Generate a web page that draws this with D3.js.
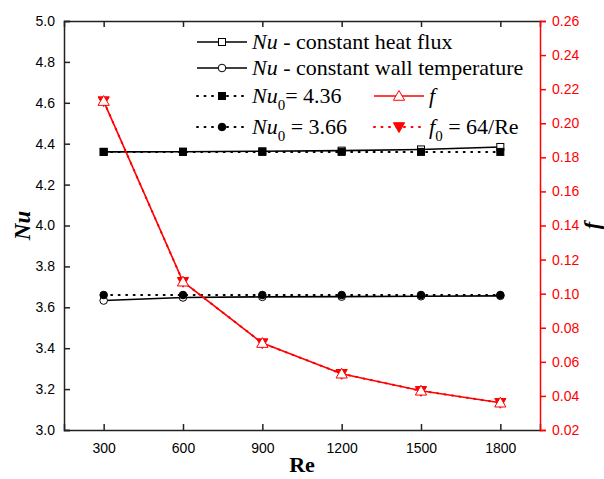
<!DOCTYPE html>
<html>
<head>
<meta charset="utf-8">
<script src="https://cdn.jsdelivr.net/npm/d3@7"></script>
<style>
  body { margin: 0; background: #fff; }
  svg { display: block; }
  .serif { font-family: "Liberation Serif", "Times New Roman", serif; }
</style>
</head>
<body>
<div id="main"></div>
<script>
"use strict";

// data
var reValues = [300, 600, 900, 1200, 1500, 1800];
var nuHeatFlux = [4.360, 4.361, 4.363, 4.366, 4.372, 4.384];
var nuWallTemp = [3.633, 3.648, 3.651, 3.652, 3.654, 3.656];
var nu0HeatFlux = [4.36, 4.36, 4.36, 4.36, 4.36, 4.36];
var nu0WallTemp = [3.66, 3.66, 3.66, 3.66, 3.66, 3.66];
var fValues = [0.213, 0.107, 0.071, 0.053, 0.043, 0.036];
var f0Values = [0.213, 0.107, 0.071, 0.053, 0.043, 0.036];
var reTicks = [300, 600, 900, 1200, 1500, 1800];
var nuTicks = [3.0, 3.2, 3.4, 3.6, 3.8, 4.0, 4.2, 4.4, 4.6, 4.8, 5.0];
var fTicks = [0.02, 0.04, 0.06, 0.08, 0.10, 0.12, 0.14, 0.16, 0.18, 0.20, 0.22, 0.24, 0.26];

var W = 604, H = 479;
var m = { left: 64, right: 540, top: 21, bottom: 430 };
var RED = "#ff0000";
var DOTS = "1,6.5";
var sans = "'Liberation Sans', Arial, sans-serif";

var svg = d3.select("#main").append("svg").attr("width", W).attr("height", H);

var x = d3.scaleLinear().domain([150, 1950]).range([m.left, m.right]);
var yL = d3.scaleLinear().domain([3.0, 5.0]).range([m.bottom, m.top]);
var yR = d3.scaleLinear().domain([0.02, 0.26]).range([m.bottom, m.top]);

// minor tick helpers
function minors(scale, step) {
  var d = scale.domain(), out = [];
  for (var v = d[0]; v <= d[1] + 1e-9; v += step) out.push(+v.toFixed(4));
  return out;
}

// bottom axis (ticks inward)
var gB = svg.append("g").attr("transform", "translate(0," + m.bottom + ")");
gB.call(d3.axisBottom(x).tickValues(minors(x, 150)).tickSize(-3).tickFormat(""));
gB.call(d3.axisBottom(x).tickValues(reTicks).tickSize(-6).tickPadding(13).tickFormat(d3.format("d")));

// top axis (ticks inward, no labels)
var gT = svg.append("g").attr("transform", "translate(0," + m.top + ")");
gT.call(d3.axisTop(x).tickValues(minors(x, 150)).tickSize(-3).tickFormat(""));
gT.call(d3.axisTop(x).tickValues(reTicks).tickSize(-6).tickFormat(""));

// left axis (ticks inward)
var gL = svg.append("g").attr("transform", "translate(" + m.left + ",0)");
gL.call(d3.axisLeft(yL).tickValues(minors(yL, 0.1)).tickSize(-3).tickFormat(""));
gL.call(d3.axisLeft(yL).tickValues(nuTicks).tickSize(-6).tickPadding(9).tickFormat(d3.format(".1f")));

// right axis (red, ticks outward)
var gR = svg.append("g").attr("transform", "translate(" + m.right + ",0)");
gR.call(d3.axisRight(yR).tickValues(minors(yR, 0.01)).tickSize(3).tickFormat(""));
gR.call(d3.axisRight(yR).tickValues(fTicks).tickSize(6).tickPadding(6).tickFormat(d3.format(".2f")));

[gB, gT, gL].forEach(function(g) {
  g.selectAll("path, line").attr("stroke", "#222").attr("stroke-width", 1.5);
  g.selectAll("text").attr("fill", "#000").attr("font-family", sans).attr("font-size", 14);
});
gR.selectAll("path, line").attr("stroke", RED).attr("stroke-width", 1.5);
gR.selectAll("text").attr("fill", RED).attr("font-family", sans).attr("font-size", 14);

// axis titles
svg.append("text").attr("class", "serif").attr("x", (m.left + m.right) / 2).attr("y", 472)
  .attr("text-anchor", "middle").attr("font-weight", "bold")
  .attr("font-size", 22).text("Re");
svg.append("text").attr("class", "serif").attr("transform", "translate(30," + ((m.top + m.bottom) / 2) + ") rotate(-90)")
  .attr("text-anchor", "middle").attr("font-weight", "bold")
  .attr("font-style", "italic").attr("font-size", 23).text("Nu");
svg.append("text").attr("class", "serif").attr("transform", "translate(599," + ((m.top + m.bottom) / 2) + ") rotate(-90)")
  .attr("text-anchor", "middle").attr("font-weight", "bold")
  .attr("font-style", "italic").attr("font-size", 22).text("f");

// markers
function drawMarker(g, shape, cx, cy, opt) {
  var s = 7;
  var fill = opt.filled ? opt.color : "#fff";
  if (shape === "square") {
    g.append("rect").attr("x", cx - s / 2).attr("y", cy - s / 2).attr("width", s).attr("height", s)
      .attr("fill", fill).attr("stroke", opt.color).attr("stroke-width", 1);
  } else if (shape === "circle") {
    g.append("circle").attr("cx", cx).attr("cy", cy).attr("r", s / 2 + 0.3)
      .attr("fill", fill).attr("stroke", opt.color).attr("stroke-width", 1);
  } else if (shape === "up") {
    g.append("path").attr("d", d3.symbol(d3.symbolTriangle, 55)())
      .attr("transform", "translate(" + cx + "," + (cy + 1) + ")")
      .attr("fill", fill).attr("stroke", opt.color).attr("stroke-width", 1);
  } else if (shape === "down") {
    g.append("path").attr("d", d3.symbol(d3.symbolTriangle, 55)())
      .attr("transform", "translate(" + cx + "," + (cy - 1) + ") rotate(180)")
      .attr("fill", fill).attr("stroke", opt.color).attr("stroke-width", 1);
  }
}

var series = [
  { vals: nuWallTemp, y: yL, color: "#000", dash: null, shape: "circle", filled: false },
  { vals: nuHeatFlux, y: yL, color: "#000", dash: null, shape: "square", filled: false },
  { vals: nu0WallTemp, y: yL, color: "#000", dash: DOTS, shape: "circle", filled: true },
  { vals: nu0HeatFlux, y: yL, color: "#000", dash: DOTS, shape: "square", filled: true },
  { vals: f0Values, y: yR, color: RED, dash: DOTS, shape: "down", filled: true },
  { vals: fValues, y: yR, color: RED, dash: null, shape: "up", filled: false }
];

var plot = svg.append("g");
series.forEach(function(s) {
  var line = d3.line().x(function(d, i) { return x(reValues[i]); }).y(function(d) { return s.y(d); });
  plot.append("path").datum(s.vals).attr("d", line).attr("fill", "none")
    .attr("stroke", s.color).attr("stroke-width", s.dash ? 2 : 1.6)
    .attr("stroke-dasharray", s.dash).attr("stroke-linecap", s.dash ? "round" : "butt");
});
series.forEach(function(s) {
  s.vals.forEach(function(v, i) {
    drawMarker(plot, s.shape, x(reValues[i]), s.y(v), s);
  });
});

// legend
var leg = svg.append("g");
var legItems = [
  { x0: 197, y: 42, color: "#000", dash: null, shape: "square", filled: false, label: "heat" },
  { x0: 197, y: 68, color: "#000", dash: null, shape: "circle", filled: false, label: "wall" },
  { x0: 197, y: 96, color: "#000", dash: DOTS, shape: "square", filled: true, label: "nu436" },
  { x0: 197, y: 127, color: "#000", dash: DOTS, shape: "circle", filled: true, label: "nu366" },
  { x0: 374, y: 96, color: RED, dash: null, shape: "up", filled: false, label: "f" },
  { x0: 374, y: 127, color: RED, dash: DOTS, shape: "down", filled: true, label: "f0" }
];
legItems.forEach(function(it) {
  leg.append("line").attr("x1", it.x0).attr("x2", it.x0 + 50).attr("y1", it.y).attr("y2", it.y)
    .attr("stroke", it.color).attr("stroke-width", it.dash ? 2 : 1.6)
    .attr("stroke-dasharray", it.dash).attr("stroke-linecap", it.dash ? "round" : "butt");
  drawMarker(leg, it.shape, it.x0 + 25, it.y, it);
  var t = leg.append("text").attr("class", "serif").attr("font-size", 22).attr("fill", "#000")
    .attr("x", it.x0 + 55).attr("y", it.y + 7);
  if (it.label === "heat" || it.label === "wall") {
    t.append("tspan").attr("font-style", "italic").text("Nu");
    t.append("tspan").text(it.label === "heat" ? " - constant heat flux" : " - constant wall temperature");
  } else if (it.label === "nu436" || it.label === "nu366") {
    t.append("tspan").attr("font-style", "italic").text("Nu");
    t.append("tspan").attr("font-size", 15).attr("dy", 7).text("0");
    t.append("tspan").attr("dy", -7).text(it.label === "nu436" ? "= 4.36" : " = 3.66");
  } else if (it.label === "f") {
    t.append("tspan").attr("font-style", "italic").text("f");
  } else {
    t.append("tspan").attr("font-style", "italic").text("f");
    t.append("tspan").attr("font-size", 15).attr("dy", 7).text("0");
    t.append("tspan").attr("dy", -7).text(" = 64/Re");
  }
});
</script>
</body>
</html>
